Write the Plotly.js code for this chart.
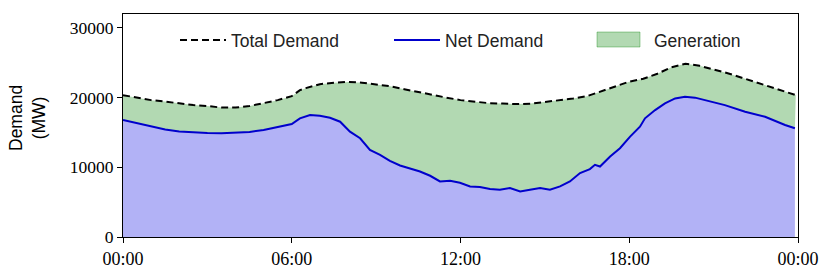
<!DOCTYPE html>
<html>
<head>
<meta charset="utf-8">
<script src="https://cdn.plot.ly/plotly-3.0.1.min.js"></script>
<style>html,body{margin:0;padding:0;background:#fff;}#chart{width:830px;height:274px;}</style>
</head>
<body>
<div id="chart"></div>
<script>
// Hours of day for total demand samples
const totalHours = [0,0.5,1,1.5,2,2.5,3,3.5,4,4.5,5,5.5,6,6.29,6.5,7,7.5,8,8.5,9,9.5,10,10.5,11,11.5,12,12.5,13,13.5,14,14.5,15,15.5,16,16.5,17,17.5,18,18.5,19,19.5,20,20.5,21,21.5,22,22.5,23,23.5,23.92];
const totalDemand = [20357,20000,19640,19430,19140,18930,18790,18570,18570,18790,19210,19640,20210,21070,21360,21930,22140,22260,22140,21930,21640,21210,20790,20360,20000,19640,19430,19210,19140,19070,19140,19360,19640,19860,20210,20930,21640,22290,22710,23430,24360,24860,24570,24070,23500,22860,22210,21500,20930,20360];

// Hours of day for net demand samples
const netHours = [0,0.5,1,1.5,2,2.5,3,3.5,4,4.5,5,5.5,5.75,6,6.29,6.65,7,7.36,7.72,8.07,8.43,8.78,9.14,9.49,9.85,10.2,10.56,10.92,11.27,11.63,11.98,12.34,12.69,13.05,13.4,13.76,14.12,14.47,14.83,15.18,15.54,15.89,16.25,16.6,16.78,16.96,17.32,17.67,18.03,18.38,18.56,18.92,19.27,19.63,19.98,20.34,20.69,21.4,22.12,22.83,23.54,23.89];
const netDemand = [16786,16357,15857,15429,15143,15000,14929,14886,14929,15071,15357,15786,16000,16214,17029,17500,17400,17114,16543,15114,14171,12500,11786,10929,10257,9786,9400,8786,7971,8071,7786,7257,7171,6886,6786,7029,6543,6786,7029,6786,7257,7971,9171,9743,10357,10114,11543,12743,14400,15829,17029,18214,19171,19886,20114,20000,19643,18929,17971,17257,16071,15600];

const xTickVals = [0,6,12,18,24];
const xTickText = ["00:00","06:00","12:00","18:00","00:00"];
const yTickVals = [0,10000,20000,30000];
const yLabel = 'Demand<br>(MW)';

const sans = "Liberation Sans, Arial, sans-serif";
const serif = "Liberation Serif, Times New Roman, serif";

const traces = [
  {x: netHours, y: netDemand, type: 'scatter', mode: 'lines', fill: 'tozeroy',
   fillcolor: 'rgba(0,0,225,0.3)', line: {width: 0, color: 'rgba(0,0,0,0)'}, showlegend: false, hoverinfo: 'skip'},
  {x: totalHours, y: totalDemand, type: 'scatter', mode: 'lines', fill: 'tonexty',
   fillcolor: 'rgba(0,128,0,0.3)', line: {width: 0, color: 'rgba(0,0,0,0)'}, showlegend: false, hoverinfo: 'skip'},
  {x: totalHours, y: totalDemand, type: 'scatter', mode: 'lines', name: 'Total Demand',
   line: {color: '#000000', width: 2, dash: '7px,4px'}, legend: 'legend'},
  {x: netHours, y: netDemand, type: 'scatter', mode: 'lines', name: 'Net Demand',
   line: {color: '#0000cc', width: 2}, legend: 'legend2'},
  {x: [null], y: [null], type: 'scatter', mode: 'lines', name: 'Generation',
   line: {color: 'rgba(0,0,0,0)', width: 0}, legend: 'legend3'}
];

const legendBase = {
  xanchor: 'left', yanchor: 'middle', y: 0.883, orientation: 'h',
  bgcolor: 'rgba(0,0,0,0)', borderwidth: 0, itemwidth: 46,
  font: {family: sans, size: 17.5, color: '#222'}
};

const layout = {
  width: 830, height: 274,
  margin: {l: 123, r: 32, t: 14, b: 37},
  paper_bgcolor: '#fff', plot_bgcolor: '#fff',
  showlegend: true,
  xaxis: {
    range: [0, 24], tickvals: xTickVals, ticktext: xTickText,
    showgrid: false, zeroline: false, showline: true, mirror: true,
    linecolor: '#000', linewidth: 1, ticks: 'outside', ticklen: 5, tickcolor: '#000',
    tickfont: {family: serif, size: 18, color: '#000'}
  },
  yaxis: {
    range: [0, 32000], tickvals: yTickVals, tickformat: 'd',
    showgrid: false, zeroline: false, showline: true, mirror: true,
    linecolor: '#000', linewidth: 1, ticks: 'outside', ticklen: 5, tickcolor: '#000',
    tickfont: {family: serif, size: 17.5, color: '#000'}
  },
  annotations: [
    {text: yLabel, xref: 'paper', yref: 'paper', x: (27 - 123) / 675, y: (237 - 118) / 223,
     xanchor: 'center', yanchor: 'middle', textangle: -90, showarrow: false,
     font: {family: sans, size: 17.5, color: '#000'}}
  ],
  legend: Object.assign({}, legendBase, {x: (175 - 123) / 675}),
  legend2: Object.assign({}, legendBase, {x: (389 - 123) / 675}),
  legend3: Object.assign({}, legendBase, {x: (598 - 123) / 675}),
  shapes: [
    {type: 'rect', xref: 'paper', yref: 'paper',
     x0: (597 - 123) / 675, x1: (640 - 123) / 675, y0: (237 - 47) / 223, y1: (237 - 32) / 223,
     fillcolor: 'rgba(0,128,0,0.3)', line: {color: 'rgba(0,128,0,0.35)', width: 1}}
  ]
};

Plotly.newPlot('chart', traces, layout, {displayModeBar: false, staticPlot: true});
</script>
</body>
</html>
